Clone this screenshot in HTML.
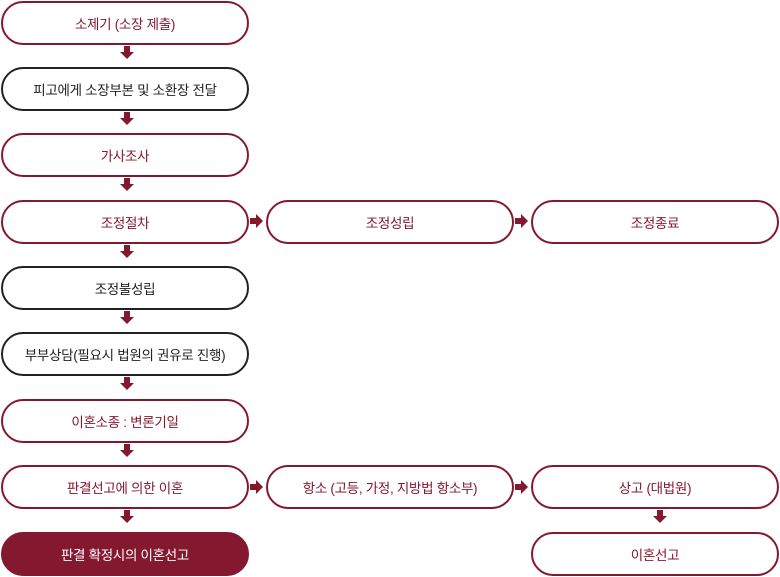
<!DOCTYPE html>
<html><head><meta charset="utf-8"><style>
body{margin:0;width:780px;height:577px;background:#fff;position:relative;font-family:"Liberation Sans","Noto Sans CJK KR",sans-serif;overflow:hidden}
.b{position:absolute;box-sizing:border-box;height:44px;border:2px solid #84182f;border-radius:22px;color:#84182f;font-size:13.5px;display:flex;align-items:center;justify-content:center;background:#fff;letter-spacing:-0.3px}
.k{border-color:#222;color:#222}
.f{background:#84182f;color:#fff}
.d,.r{position:absolute;width:0;height:0}
.d::before{content:"";position:absolute;left:-3px;top:0;width:6px;height:6px;background:#84182f}
.d::after{content:"";position:absolute;left:-7px;top:6px;border-left:7px solid transparent;border-right:7px solid transparent;border-top:7px solid #84182f}
.r::before{content:"";position:absolute;top:-3px;left:0;width:6px;height:6px;background:#84182f}
.r::after{content:"";position:absolute;top:-7px;left:6px;border-top:7px solid transparent;border-bottom:7px solid transparent;border-left:7px solid #84182f}
</style></head><body>
<div class="b" style="left:1px;top:1px;width:248px">소제기 (소장 제출)</div>
<div class="b k" style="left:1px;top:67px;width:248px">피고에게 소장부본 및 소환장 전달</div>
<div class="b" style="left:1px;top:133px;width:248px">가사조사</div>
<div class="b" style="left:1px;top:200px;width:248px">조정절차</div>
<div class="b k" style="left:1px;top:266px;width:248px">조정불성립</div>
<div class="b k" style="left:1px;top:332px;width:248px">부부상담(필요시 법원의 권유로 진행)</div>
<div class="b" style="left:1px;top:399px;width:248px">이혼소종 : 변론기일</div>
<div class="b" style="left:1px;top:465px;width:248px">판결선고에 의한 이혼</div>
<div class="b f" style="left:1px;top:532px;width:248px">판결 확정시의 이혼선고</div>
<div class="b" style="left:266px;top:200px;width:248px">조정성립</div>
<div class="b" style="left:266px;top:465px;width:248px">항소 (고등, 가정, 지방법 항소부)</div>
<div class="b" style="left:531px;top:200px;width:248px">조정종료</div>
<div class="b" style="left:531px;top:465px;width:248px">상고 (대법원)</div>
<div class="b" style="left:531px;top:532px;width:248px">이혼선고</div>
<div class="d" style="left:127px;top:46px"></div>
<div class="d" style="left:127px;top:112px"></div>
<div class="d" style="left:127px;top:178px"></div>
<div class="d" style="left:127px;top:245px"></div>
<div class="d" style="left:127px;top:311px"></div>
<div class="d" style="left:127px;top:377px"></div>
<div class="d" style="left:127px;top:444px"></div>
<div class="d" style="left:127px;top:510px"></div>
<div class="d" style="left:660px;top:510px"></div>
<div class="r" style="left:250px;top:221px"></div>
<div class="r" style="left:515px;top:221px"></div>
<div class="r" style="left:250px;top:487px"></div>
<div class="r" style="left:515px;top:487px"></div>
</body></html>
